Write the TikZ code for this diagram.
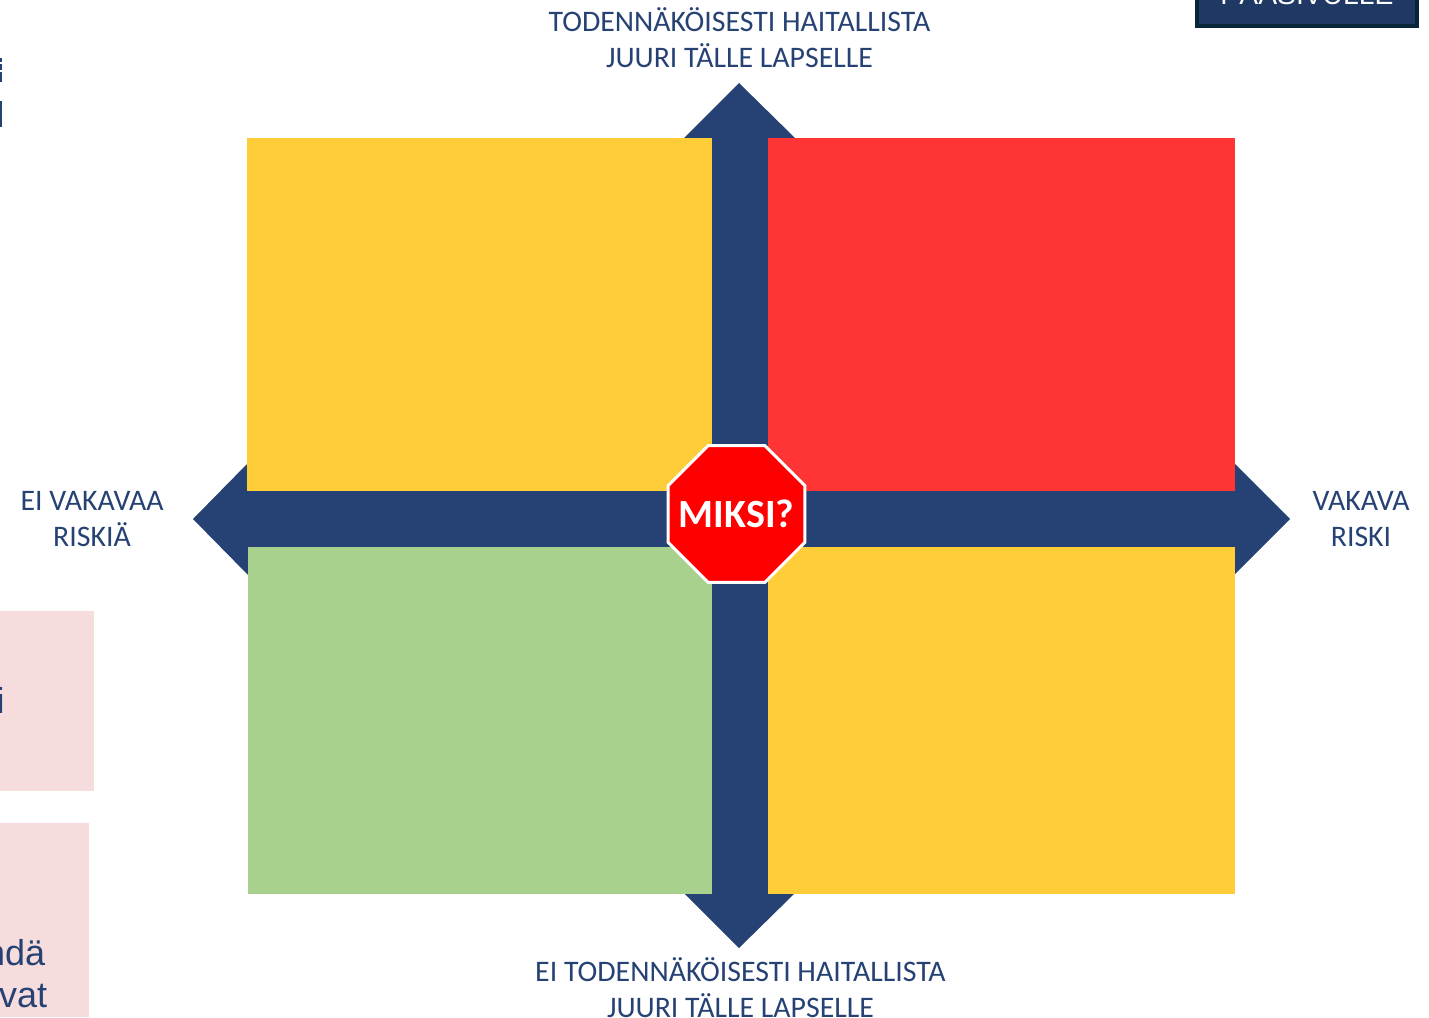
\documentclass[tikz,border=0pt]{standalone}
\usepackage{xcolor}
\usepackage{fontspec}
\usetikzlibrary{shapes.geometric}
\setmainfont{Carlito}
\newfontfamily\arialfont{Liberation Sans}
\definecolor{axisblue}{RGB}{38, 66, 116}
\definecolor{quadyellow}{RGB}{255, 205, 56}
\definecolor{quadred}{RGB}{255, 53, 53}
\definecolor{quadgreen}{RGB}{169, 209, 142}
\definecolor{notepink}{RGB}{247, 220, 221}
\definecolor{btndark}{RGB}{8, 38, 56}
\definecolor{btnblue}{RGB}{32, 56, 100}
\tikzset{
  axislabel/.style={align=center, text=axisblue, font=\fontsize{29.8}{36}\selectfont},
  notetext/.style={anchor=base west, text=axisblue, inner sep=0pt, font=\arialfont\fontsize{36}{42}\selectfont}
}

\begin{document}
\begin{tikzpicture}[x=1pt, y=-1pt]
  \useasboundingbox (0,0) rectangle (1429,1017);
  \clip (0,0) rectangle (1429,1017);
  \fill[white] (0,0) rectangle (1429,1017);

  % Axes with arrow heads
  \fill[axisblue] (712,138) -- (684,138) -- (739,83) -- (795,138) -- (768,138) -- (768,491)
    -- (1234,491) -- (1234,463) -- (1290,519) -- (1234,575) -- (1234,547) -- (768,547)
    -- (768,893) -- (795,893) -- (739,948) -- (684,893) -- (712,893) -- (712,547)
    -- (248,547) -- (248,575) -- (193,519) -- (248,463) -- (248,491) -- (712,491) -- cycle;

  % Quadrants
  \fill[quadyellow] (247,138) rectangle (712,491);
  \fill[quadred] (768,138) rectangle (1235,491);
  \fill[quadgreen] (248,547) rectangle (712,894);
  \fill[quadyellow] (768,547) rectangle (1235,894);

  % Stop sign
  \node[regular polygon, regular polygon sides=8, minimum size=148pt, inner sep=0pt,
    fill=red, draw=white, line width=3pt] (stopSign) at (736.5,514) {};
  \node[text=white, font=\bfseries\fontsize{40}{42}\selectfont] (miksi) at (stopSign.center) {MIKSI?};

  % Axis labels
  \node[axislabel] (topLabel) at (739.5,37.5) {TODENNÄKÖISESTI HAITALLISTA\\JUURI TÄLLE LAPSELLE};
  \node[axislabel] (bottomLabel) at (740.5,988) {EI TODENNÄKÖISESTI HAITALLISTA\\JUURI TÄLLE LAPSELLE};
  \node[axislabel] (leftLabel) at (92,519) {EI VAKAVAA\\RISKIÄ};
  \node[axislabel] (rightLabel) at (1361,519) {VAKAVA\\RISKI};

  % Button, cut off at the top
  \draw[line width=4pt, draw=btndark, fill=btnblue] (1197,-10) rectangle (1417,25.5);
  \node[anchor=base, inner sep=0pt, text=white, font=\arialfont\fontsize{28.3}{30}\selectfont]
    (mainButton) at (1307,5) {PÄÄSIVULLE};

  % Notes, cut off at the left
  \fill[notepink] (0,611) rectangle (94,791);
  \fill[notepink] (0,823) rectangle (89,1017);
  \node[notetext] (noteOne) at (-3.5,713) {i};
  \node[notetext] (noteTwo) at (-15,965) {ndä};
  \node[notetext] (noteThree) at (-1,1007) {vat};

  % Scraps at the left edge
  \fill[axisblue] (0,58) rectangle (2,62);
  \fill[axisblue] (0,64) rectangle (2,70);
  \fill[axisblue] (0,72) rectangle (2,82);
  \fill[axisblue] (0,101) rectangle (2,127);
\end{tikzpicture}
\end{document}
